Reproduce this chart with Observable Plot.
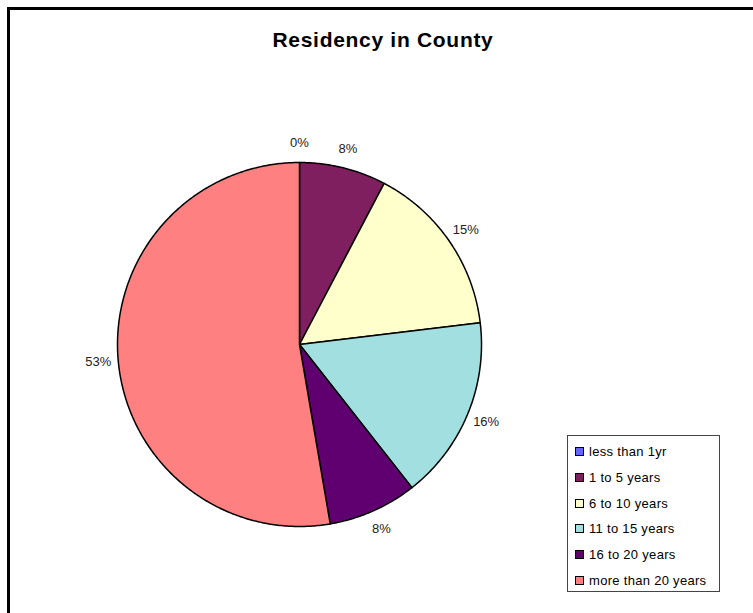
<!DOCTYPE html>
<html>
<head>
<meta charset="utf-8">
<script src="https://cdn.jsdelivr.net/npm/d3@7"></script>
<script src="https://cdn.jsdelivr.net/npm/@observablehq/plot@0.6"></script>
<style>
  html, body { margin: 0; padding: 0; background: #fff; }
  body { width: 753px; height: 613px; position: relative; overflow: hidden; font-family: "Liberation Sans", Arial, sans-serif; }
  #frame { position: absolute; left: 7px; top: 7px; width: 900px; height: 800px; border-left: 3px solid #000; border-top: 3px solid #000; box-sizing: border-box; }
  #title { position: absolute; left: 0; width: 766px; top: 28px; text-align: center; font-weight: bold; font-size: 21px; letter-spacing: 0.7px; color: #000; }
  #chart { position: absolute; left: 0; top: 0; }
  #legend { position: absolute; left: 567px; top: 435px; width: 153px; height: 157px; border: 1px solid #444; box-sizing: border-box; background: #fff; }
  .item { position: absolute; left: 7px; font-size: 13px; letter-spacing: 0.3px; color: #000; white-space: nowrap; line-height: 14px; }
  .sw { display: inline-block; width: 7px; height: 7px; border: 1.5px solid #000; vertical-align: 0px; margin-right: 5px; }
</style>
</head>
<body>
<div id="frame"></div>
<div id="title">Residency in County</div>
<div id="chart"></div>
<div id="legend"></div>
<script>
const categories = ["less than 1yr", "1 to 5 years", "6 to 10 years", "11 to 15 years", "16 to 20 years", "more than 20 years"];
const values = [0, 7.7, 15.4, 16.3, 7.9, 52.7];
const labels = ["0%", "8%", "15%", "16%", "8%", "53%"];
const colors = ["#6666ff", "#7f1f5f", "#ffffcc", "#a2dfe0", "#600070", "#ff8080"];

const total = d3.sum(values);
const R = 1, LR = 1.11;
let acc = 0;
const slices = values.map((v, i) => {
  const a0 = acc / total * 2 * Math.PI;
  acc += v;
  const a1 = acc / total * 2 * Math.PI;
  const n = Math.max(2, Math.ceil((a1 - a0) / 0.01));
  const ring = [[0, 0]];
  for (let k = 0; k <= n; k++) {
    const a = a0 + (a1 - a0) * k / n;
    ring.push([R * Math.sin(a), R * Math.cos(a)]);
  }
  ring.push([0, 0]);
  const mid = (a0 + a1) / 2;
  return {
    type: "Feature",
    properties: {cat: categories[i], color: colors[i], label: labels[i], lx: LR * Math.sin(mid), ly: LR * Math.cos(mid)},
    geometry: {type: "Polygon", coordinates: [ring]}
  };
});

const D = 1.2, scale = 182, cx = 299, cy = 344;
const size = 2 * D * scale;
const W = 753, H = 613;
const mL = cx - size / 2, mT = cy - size / 2;

const plot = Plot.plot({
  width: W,
  height: H,
  marginLeft: mL,
  marginTop: mT,
  marginRight: W - mL - size,
  marginBottom: H - mT - size,
  projection: {type: "reflect-y", domain: {type: "MultiPoint", coordinates: [[-D, -D], [D, D]]}, inset: 0},
  marks: [
    Plot.geo(slices, {fill: d => d.properties.color, stroke: "#000", strokeWidth: 1.5, strokeLinejoin: "round"}),
    Plot.text(slices, {x: d => d.properties.lx, y: d => d.properties.ly, text: d => d.properties.label, fontSize: 13, fill: "#222", fontFamily: "Liberation Sans, Arial, sans-serif"})
  ]
});
plot.style.background = "transparent";
document.getElementById("chart").appendChild(plot);

const legend = document.getElementById("legend");
categories.forEach((c, i) => {
  const it = document.createElement("div");
  it.className = "item";
  it.style.top = (9 + i * 25.8) + "px";
  const sw = document.createElement("span");
  sw.className = "sw";
  sw.style.background = colors[i];
  it.appendChild(sw);
  it.appendChild(document.createTextNode(c));
  legend.appendChild(it);
});
</script>
</body>
</html>
